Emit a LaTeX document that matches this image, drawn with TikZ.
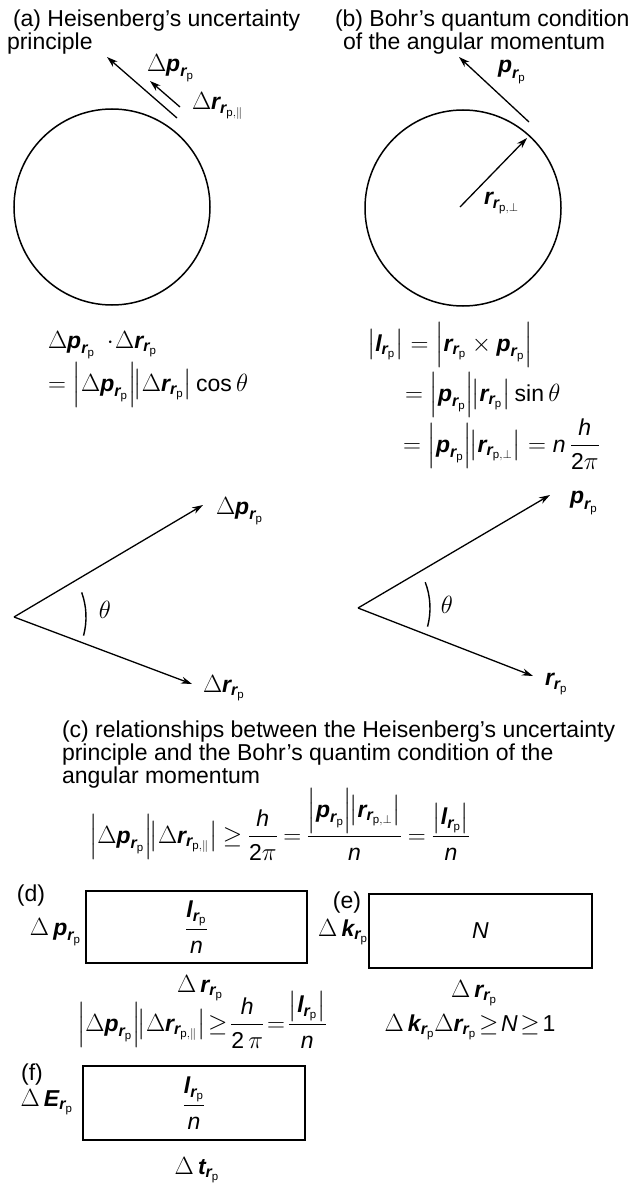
\documentclass[tikz,border=0pt]{standalone}
\usepackage{amsmath}
\usepackage{fontspec}
\setmainfont{Liberation Sans}
\usetikzlibrary{arrows.meta}
\newcommand\bv[1]{\text{\bfseries\itshape #1}}
\newcommand\V[1]{\bv{#1}_{\bv{r}_{\text{p}}}}
\newcommand\Vx[2]{\bv{#1}_{\bv{r}_{\text{p},#2}}}
\newcommand\ii[1]{\text{\itshape #1}}
\newcommand\ab[1]{\left|#1\right|}
\newcommand\jn{\mskip-5mu}
\tikzset{
  lbl/.style={inner sep=0pt, outer sep=0pt},
  tight/.style={lbl, execute at begin node={\thickmuskip=2mu\medmuskip=2mu}},
  semitight/.style={lbl, execute at begin node={\thickmuskip=4mu\medmuskip=3mu}},
  vec/.style={line width=1.3pt, -{Stealth[length=11pt,width=7pt]}},
  circ/.style={line width=1.5pt},
  boxn/.style={draw, line width=1.8pt, inner sep=0pt},
  ang/.style={line width=1.4pt}
}
\begin{document}
\begin{tikzpicture}[x=1pt,y=-1pt,font=\fontsize{23}{27}\selectfont]
\useasboundingbox (0,0) rectangle (634,1185);
% ---------- (a)
\node[lbl,anchor=base west] (ta1) at (13,27) {(a) Heisenberg’s uncertainty};
\node[lbl,anchor=base west] (ta2) at (7,50) {principle};
\node[circ,draw,circle,minimum size=196pt,inner sep=0pt] (ca) at (112,207) {};
\coordinate (a1s) at (177,118); \coordinate (a1e) at (107,57);
\coordinate (a2s) at (180,107); \coordinate (a2e) at (150,81);
\draw[vec] (a1s) -- (a1e);
\draw[vec] (a2s) -- (a2e);
\node[lbl,anchor=west] (la1) at (147,68) {\(\Delta\V{p}\)};
\node[lbl,anchor=west] (la2) at (192,106) {\(\Delta\Vx{r}{\|}\)};
\node[lbl,anchor=base west] (ea1) at (48,348) {\(\Delta\V{p}\ \cdot\!\Delta\V{r}\)};
\node[lbl,anchor=base west] (ea2) at (48,391) {\(=\ab{\Delta\V{p}}\jn\ab{\Delta\V{r}}\text{cos}\,\theta\)};
% ---------- (b)
\node[lbl,anchor=base west] (tb1) at (335,27) {(b) Bohr’s quantum condition};
\node[lbl,anchor=base west] (tb2) at (343,50) {of the angular momentum};
\node[circ,draw,circle,minimum size=196pt,inner sep=0pt] (cb) at (463,208) {};
\coordinate (b1s) at (529,122); \coordinate (b1e) at (459,57);
\coordinate (b2s) at (460,207); \coordinate (b2e) at (527,138);
\draw[vec] (b1s) -- (b1e);
\draw[vec] (b2s) -- (b2e);
\node[lbl,anchor=west] (lb1) at (498,72) {\(\V{p}\)};
\node[lbl,anchor=west] (lb2) at (484,203) {\(\Vx{r}{\perp}\)};
\node[lbl,anchor=base west] (eb1) at (367,351) {\(\ab{\V{l}}=\ab{\V{r}\times\V{p}}\)};
\node[lbl,anchor=base west] (eb2) at (405,401) {\(=\ab{\V{p}}\jn\ab{\V{r}}\text{sin}\,\theta\)};
\node[lbl,anchor=base west] (eb3) at (403,452) {\(=\ab{\V{p}}\jn\ab{\Vx{r}{\perp}}=\ii{n}\,\dfrac{\ii{h}}{\text{2}\pi}\)};
% ---------- angle diagrams
\coordinate (o1) at (14,617);
\coordinate (p1) at (203,505);
\coordinate (r1) at (192,684);
\draw[vec] (o1) -- (p1);
\draw[vec] (o1) -- (r1);
\draw[ang] (o1) ++(-20:72) arc[start angle=-20,end angle=15,radius=72];
\node[lbl] (th1) at (105,610) {\(\theta\)};
\node[lbl,anchor=west] (lp1) at (216,511) {\(\Delta\V{p}\)};
\node[lbl,anchor=west] (lr1) at (203,688) {\(\Delta\V{r}\)};
\coordinate (o2) at (358,608);
\coordinate (p2) at (550,495);
\coordinate (r2) at (533,676);
\draw[vec] (o2) -- (p2);
\draw[vec] (o2) -- (r2);
\draw[ang] (o2) ++(-21:72) arc[start angle=-21,end angle=15,radius=72];
\node[lbl] (th2) at (447,605) {\(\theta\)};
\node[lbl,anchor=west] (lp2) at (570,503) {\(\V{p}\)};
\node[lbl,anchor=west] (lr2) at (545,684) {\(\V{r}\)};
% ---------- (c)
\node[lbl,anchor=base west] (tc1) at (62,737) {(c) relationships between the Heisenberg’s uncertainty};
\node[lbl,anchor=base west] (tc2) at (62,760) {principle and the Bohr’s quantim condition of the};
\node[lbl,anchor=base west] (tc3) at (62,783) {angular momentum};
\node[semitight,anchor=base west] (ec) at (89,843) {\(\ab{\Delta\V{p}}\jn\ab{\Delta\Vx{r}{\|}}\geq\dfrac{\ii{h}}{\text{2}\pi}=\dfrac{\ab{\V{p}}\jn\ab{\Vx{r}{\perp}}}{\ii{n}}=\dfrac{\ab{\V{l}}}{\ii{n}}\)};
% ---------- (d)
\node[lbl] (td) at (31,896) {(d)};
\node[boxn,minimum width=221pt,minimum height=72pt] (bd) at (196.5,927) {\(\dfrac{\V{l}}{\ii{n}}\)};
\node[lbl,anchor=east] (ld1) at (81,932) {\(\Delta\,\V{p}\)};
\node[lbl] (ld2) at (200,988) {\(\Delta\,\V{r}\)};
\node[tight,anchor=base west] (ed) at (77,1031) {\(\ab{\Delta\V{p}}\jn\ab{\Delta\Vx{r}{\|}}\geq\dfrac{\ii{h}}{\text{2}\,\pi}=\dfrac{\ab{\V{l}}}{\ii{n}}\)};
% ---------- (e)
\node[lbl] (te) at (347,903) {(e)};
\node[boxn,minimum width=223pt,minimum height=74pt] (be) at (480.5,931) {\(\ii{N}\)};
\node[lbl,anchor=east] (le1) at (368,932) {\(\Delta\,\V{k}\)};
\node[lbl] (le2) at (474,993) {\(\Delta\,\V{r}\)};
\node[tight] (ee) at (470,1027) {\(\Delta\,\V{k}\Delta\V{r}\geq\ii{N}\geq\text{1}\)};
% ---------- (f)
\node[lbl] (tf) at (32,1075) {(f)};
\node[boxn,minimum width=222pt,minimum height=74pt] (bf) at (194,1103) {\(\dfrac{\V{l}}{\ii{n}}\)};
\node[lbl,anchor=east] (lf1) at (73,1102) {\(\Delta\,\V{E}\)};
\node[lbl] (lf2) at (197,1170) {\(\Delta\,\V{t}\)};
\end{tikzpicture}
\end{document}
